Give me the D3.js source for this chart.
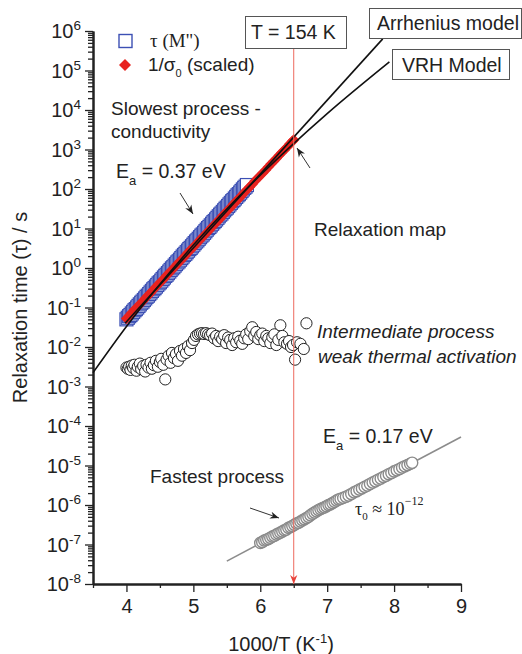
<!DOCTYPE html>
<html>
<head>
<meta charset="utf-8">
<script src="https://cdn.jsdelivr.net/npm/d3@7"></script>
<style>
  body { margin: 0; background: #fff; }
  svg { font-family: "Liberation Sans", Arial, sans-serif; }
</style>
</head>
<body>
<svg id="relaxmap"></svg>
<script>
// log10(tau) values

// tau(M'') - blue open squares
var sqX = [4.00,4.02,4.04,4.06,4.08,4.10,4.12,4.14,4.16,4.18,4.20,4.22,4.24,4.26,4.28,4.30,4.32,4.34,4.36,4.38,4.40,4.42,4.44,4.46,4.48,4.50,4.52,4.54,4.56,4.58,4.60,4.62,4.64,4.66,4.68,4.70,4.72,4.74,4.76,4.78,4.80,4.82,4.84,4.86,4.88,4.90,4.92,4.94,4.96,4.98,5.00,5.02,5.04,5.06,5.08,5.10,5.12,5.14,5.16,5.18,5.20,5.22,5.24,5.26,5.28,5.30,5.32,5.34,5.36,5.38,5.40,5.42,5.44,5.46,5.48,5.50,5.52,5.54,5.56,5.58,5.60,5.62,5.64,5.66,5.68,5.70,5.72,5.74,5.76,5.78,5.80];
var sqLog = [-1.30,-1.26,-1.22,-1.19,-1.15,-1.11,-1.07,-1.04,-1.00,-0.96,-0.92,-0.88,-0.85,-0.81,-0.77,-0.73,-0.70,-0.66,-0.62,-0.58,-0.54,-0.51,-0.47,-0.43,-0.39,-0.36,-0.32,-0.28,-0.24,-0.20,-0.17,-0.13,-0.09,-0.05,-0.01,0.02,0.06,0.10,0.14,0.17,0.21,0.25,0.29,0.33,0.36,0.40,0.44,0.48,0.51,0.55,0.59,0.63,0.67,0.70,0.74,0.78,0.82,0.85,0.89,0.93,0.97,1.01,1.04,1.08,1.12,1.16,1.19,1.23,1.27,1.31,1.35,1.38,1.42,1.46,1.50,1.53,1.57,1.61,1.65,1.69,1.72,1.76,1.80,1.84,1.87,1.91,1.95,1.99,2.03,2.06,2.10];

// 1/sigma0 (scaled) - red diamonds
var dmX = [4.00,4.04,4.08,4.12,4.16,4.20,4.24,4.28,4.32,4.36,4.40,4.44,4.48,4.52,4.56,4.60,4.64,4.68,4.72,4.76,4.80,4.84,4.88,4.92,4.96,5.00,5.04,5.08,5.12,5.16,5.20,5.24,5.28,5.32,5.36,5.40,5.44,5.48,5.52,5.56,5.60,5.64,5.68,5.72,5.76,5.80,5.84,5.88,5.92,5.96,6.00,6.04,6.08,6.12,6.16,6.20,6.24,6.28,6.32,6.36,6.40,6.44,6.48,6.50];
var dmLog = [-1.28,-1.21,-1.13,-1.06,-0.99,-0.92,-0.85,-0.77,-0.70,-0.63,-0.56,-0.48,-0.41,-0.34,-0.27,-0.19,-0.12,-0.05,0.02,0.10,0.17,0.24,0.31,0.39,0.46,0.53,0.60,0.68,0.75,0.82,0.89,0.96,1.04,1.11,1.18,1.25,1.33,1.40,1.47,1.54,1.62,1.69,1.76,1.83,1.91,1.98,2.05,2.12,2.20,2.27,2.34,2.41,2.48,2.56,2.63,2.70,2.77,2.85,2.92,2.99,3.06,3.14,3.21,3.24];

// intermediate process - black open circles
var midX = [4.00,4.02,4.04,4.06,4.08,4.10,4.12,4.15,4.17,4.20,4.22,4.25,4.28,4.30,4.33,4.36,4.38,4.41,4.44,4.47,4.50,4.52,4.55,4.58,4.60,4.63,4.66,4.68,4.71,4.74,4.77,4.80,4.83,4.86,4.89,4.92,4.95,4.98,5.01,5.04,5.07,5.10,5.13,5.16,5.19,5.22,5.25,5.28,5.31,5.34,5.37,5.40,5.43,5.46,5.49,5.52,5.55,5.58,5.61,5.64,5.67,5.70,5.73,5.76,5.79,5.82,5.85,5.88,5.91,5.94,5.97,6.00,6.03,6.06,6.09,6.12,6.15,6.18,6.21,6.24,6.27,6.30,6.33,6.36,6.40,6.43,6.46,6.49,6.52,6.55,6.60,6.65,6.69];
var midLog = [-2.52,-2.55,-2.50,-2.58,-2.47,-2.53,-2.45,-2.60,-2.50,-2.42,-2.56,-2.48,-2.62,-2.45,-2.52,-2.40,-2.55,-2.46,-2.35,-2.50,-2.38,-2.30,-2.45,-2.82,-2.32,-2.22,-2.40,-2.15,-2.28,-2.18,-2.35,-2.10,-2.22,-2.05,-2.15,-1.98,-2.08,-1.90,-1.82,-1.72,-1.68,-1.66,-1.65,-1.67,-1.65,-1.68,-1.70,-1.66,-1.78,-1.72,-1.85,-1.74,-1.80,-1.70,-1.90,-1.76,-1.82,-1.95,-1.78,-1.88,-1.74,-1.84,-1.92,-1.78,-1.68,-1.80,-1.60,-1.50,-1.72,-1.62,-1.80,-1.70,-1.66,-1.85,-1.72,-1.78,-1.90,-1.75,-1.68,-1.95,-1.82,-1.45,-1.72,-1.88,-1.92,-1.85,-2.00,-1.95,-2.32,-1.88,-1.92,-2.05,-1.40];

// fastest process - grey open circles
var fastX = [6.00,6.03,6.06,6.09,6.12,6.15,6.18,6.21,6.24,6.27,6.30,6.33,6.36,6.39,6.42,6.45,6.48,6.51,6.54,6.57,6.60,6.63,6.66,6.69,6.72,6.75,6.78,6.81,6.84,6.87,6.90,6.93,6.96,6.99,7.02,7.05,7.08,7.11,7.14,7.17,7.20,7.24,7.28,7.32,7.36,7.40,7.44,7.48,7.52,7.56,7.60,7.64,7.68,7.72,7.76,7.80,7.84,7.88,7.92,7.96,8.00,8.04,8.08,8.12,8.16,8.20,8.24,8.27];
var fastLog = [-6.96,-6.94,-6.90,-6.88,-6.86,-6.83,-6.80,-6.78,-6.75,-6.72,-6.70,-6.67,-6.64,-6.62,-6.58,-6.56,-6.53,-6.50,-6.47,-6.45,-6.42,-6.39,-6.36,-6.33,-6.30,-6.26,-6.22,-6.19,-6.16,-6.13,-6.10,-6.08,-6.06,-6.03,-6.00,-5.98,-5.95,-5.92,-5.89,-5.86,-5.84,-5.82,-5.79,-5.76,-5.72,-5.68,-5.65,-5.61,-5.58,-5.54,-5.51,-5.47,-5.43,-5.40,-5.36,-5.33,-5.29,-5.26,-5.22,-5.19,-5.15,-5.12,-5.09,-5.05,-5.02,-4.99,-4.96,-4.93];

// model lines (endpoints / points)
var arrhX = [3.98, 7.83];
var arrhLog = [-1.40, 5.80];
var vrhX = [3.5, 4.0, 5.0, 6.0, 7.0, 7.93];
var vrhLog = [-2.65, -1.48, 0.58, 2.35, 3.91, 5.22];
var fastFitX = [5.5, 9.0];
var fastFitLog = [-7.42, -4.28];

var xMajor = [4, 5, 6, 7, 8, 9];
var xMinor = [3.5, 4.5, 5.5, 6.5, 7.5, 8.5];
var yExp = [6, 5, 4, 3, 2, 1, 0, -1, -2, -3, -4, -5, -6, -7, -8];
var tempLine = 6.5;   // 1000/154 K

var width = 522, height = 654;
var ink = "#222";

var svg = d3.select("#relaxmap")
  .attr("width", width)
  .attr("height", height);

var x = d3.scaleLinear().domain([3.5, 9]).range([93, 461]);
var y = d3.scaleLog().domain([1e-8, 1e6]).range([584, 31]);

function pts(xs, ls) {
  return xs.map(function(d, i) { return [d, Math.pow(10, ls[i])]; });
}

var defs = svg.append("defs");
function arrowMarker(id, col) {
  defs.append("marker")
    .attr("id", id)
    .attr("viewBox", "0 0 10 10")
    .attr("refX", 10).attr("refY", 5)
    .attr("markerWidth", 9).attr("markerHeight", 9)
    .attr("markerUnits", "userSpaceOnUse")
    .attr("orient", "auto")
    .append("path")
    .attr("d", "M0,1 L10,5 L0,9 L3,5 z")
    .attr("fill", col);
}
arrowMarker("arrBlack", "#222");
arrowMarker("arrRed", "#e8423a");

// ---- axes
var xMinorAxis = d3.axisBottom(x).tickValues(xMinor).tickSize(4).tickFormat("").tickSizeOuter(0);
var xAxis = d3.axisBottom(x).tickValues(xMajor).tickSize(8).tickPadding(7)
  .tickFormat(d3.format("d")).tickSizeOuter(0);

svg.append("g").attr("transform", "translate(0,584)").call(xMinorAxis);
var gx = svg.append("g").attr("transform", "translate(0,584)").call(xAxis);
gx.selectAll("text").attr("font-size", 20).attr("fill", ink)
  .attr("font-family", "Liberation Sans, Arial, sans-serif");

var yMinor = [];
for (var e = -8; e < 6; e++) {
  for (var m = 2; m < 10; m++) yMinor.push(m * Math.pow(10, e));
}
var yMinorAxis = d3.axisLeft(y).tickValues(yMinor).tickSize(5).tickFormat("").tickSizeOuter(0);
var yAxis = d3.axisLeft(y).tickValues(yExp.map(function(p) { return Math.pow(10, p); }))
  .tickSize(8).tickFormat("").tickSizeOuter(0);

svg.append("g").attr("transform", "translate(93,0)").call(yMinorAxis);
var gy = svg.append("g").attr("transform", "translate(93,0)").call(yAxis);

svg.selectAll(".domain").attr("stroke", ink).attr("stroke-width", 2);
svg.selectAll(".tick line").attr("stroke", ink).attr("stroke-width", 1.3);

var ylab = svg.append("g");
yExp.forEach(function(p) {
  var t = ylab.append("text")
    .attr("x", 81)
    .attr("y", y(Math.pow(10, p)) + 7)
    .attr("text-anchor", "end")
    .attr("fill", ink)
    .attr("font-size", 20);
  t.append("tspan").text("10");
  t.append("tspan").attr("dy", -8).attr("font-size", 13.5).text(p);
});

svg.append("text")
  .attr("transform", "translate(27," + ((31 + 584) / 2) + ") rotate(-90)")
  .attr("text-anchor", "middle")
  .attr("font-size", 20)
  .attr("fill", ink)
  .text("Relaxation time (τ) / s");

var xt = svg.append("text")
  .attr("x", 281).attr("y", 651)
  .attr("text-anchor", "middle")
  .attr("font-size", 20)
  .attr("fill", ink);
xt.append("tspan").text("1000/T (K");
xt.append("tspan").attr("dy", -8).attr("font-size", 13).text("-1");
xt.append("tspan").attr("dy", 8).text(")");

// ---- lines + marks
var line = d3.line()
  .x(function(d) { return x(d[0]); })
  .y(function(d) { return y(d[1]); });

svg.append("path")
  .datum(pts(fastFitX, fastFitLog))
  .attr("d", line)
  .attr("fill", "none").attr("stroke", "#8c8c8c").attr("stroke-width", 1.6);

svg.append("g").selectAll("circle")
  .data(pts(fastX, fastLog))
  .enter().append("circle")
  .attr("cx", function(d) { return x(d[0]); })
  .attr("cy", function(d) { return y(d[1]); })
  .attr("r", 5.6)
  .attr("fill", "#fff").attr("stroke", "#8a8a8a").attr("stroke-width", 1.4);

svg.append("g").selectAll("circle")
  .data(pts(midX, midLog))
  .enter().append("circle")
  .attr("cx", function(d) { return x(d[0]); })
  .attr("cy", function(d) { return y(d[1]); })
  .attr("r", 5.6)
  .attr("fill", "#fff").attr("stroke", "#222").attr("stroke-width", 1);

svg.append("g").selectAll("rect")
  .data(pts(sqX, sqLog))
  .enter().append("rect")
  .attr("x", function(d) { return x(d[0]) - 6.5; })
  .attr("y", function(d) { return y(d[1]) - 6.5; })
  .attr("width", 13).attr("height", 13)
  .attr("fill", "#fff").attr("stroke", "#3c50b4").attr("stroke-width", 1.2);

var diamond = d3.symbol().type(d3.symbolSquare).size(64);
svg.append("g").selectAll("path")
  .data(pts(dmX, dmLog))
  .enter().append("path")
  .attr("d", diamond)
  .attr("transform", function(d) { return "translate(" + x(d[0]) + "," + y(d[1]) + ") rotate(45)"; })
  .attr("fill", "#e8221f");

svg.append("path")
  .datum(pts(vrhX, vrhLog))
  .attr("d", line.curve(d3.curveMonotoneX))
  .attr("fill", "none").attr("stroke", "#111").attr("stroke-width", 1.6);
line.curve(d3.curveLinear);

svg.append("path")
  .datum(pts(arrhX, arrhLog))
  .attr("d", line)
  .attr("fill", "none").attr("stroke", "#111").attr("stroke-width", 1.6);

// T = 154 K marker line
svg.append("line")
  .attr("x1", x(tempLine)).attr("x2", x(tempLine))
  .attr("y1", 48).attr("y2", 584)
  .attr("stroke", "#ee6a5e").attr("stroke-width", 1)
  .attr("marker-end", "url(#arrRed)");

// ---- boxes
function box(x0, y0, w, h, label, tx, ty) {
  svg.append("rect")
    .attr("x", x0).attr("y", y0).attr("width", w).attr("height", h)
    .attr("fill", "#fff").attr("stroke", "#555").attr("stroke-width", 1);
  svg.append("text").attr("x", tx).attr("y", ty)
    .attr("font-size", 19.5).attr("fill", ink).text(label);
}
box(245.5, 16.5, 101, 32, "T = 154 K", 251, 39);
box(369.5, 8.5, 152, 30, "Arrhenius model", 377, 30);
box(392.5, 49.5, 117, 30, "VRH Model", 402, 72);

// ---- legend
svg.append("rect")
  .attr("x", 119).attr("y", 34.5).attr("width", 13).attr("height", 13)
  .attr("fill", "#fff").attr("stroke", "#3c50b4").attr("stroke-width", 1.4);
svg.append("text").attr("x", 150).attr("y", 47)
  .attr("font-family", "Liberation Serif, Times New Roman, serif")
  .attr("font-size", 19).attr("fill", ink).text("τ (M\")");
svg.append("path")
  .attr("d", d3.symbol().type(d3.symbolSquare).size(72))
  .attr("transform", "translate(125,65) rotate(45)")
  .attr("fill", "#e8221f");
var lg2 = svg.append("text").attr("x", 148).attr("y", 71)
  .attr("font-size", 19).attr("fill", ink);
lg2.append("tspan").text("1/σ");
lg2.append("tspan").attr("dy", 6).attr("font-size", 11).text("0");
lg2.append("tspan").attr("dy", -6).text(" (scaled)");

// ---- annotations
function label(tx, ty, txt, opts) {
  var t = svg.append("text").attr("x", tx).attr("y", ty)
    .attr("font-size", 19).attr("fill", ink).text(txt);
  if (opts === "italic") t.attr("font-style", "italic");
  return t;
}
label(111, 115, "Slowest process -");
label(111, 138, "conductivity");
label(314, 236, "Relaxation map");
label(317, 338, "Intermediate process", "italic");
label(318, 363, "weak thermal activation", "italic");
label(150, 483, "Fastest process");

function eaLabel(tx, ty, val) {
  var t = svg.append("text").attr("x", tx).attr("y", ty)
    .attr("font-size", 19.5).attr("fill", ink);
  t.append("tspan").text("E");
  t.append("tspan").attr("dy", 7).attr("font-size", 13).text("a");
  t.append("tspan").attr("dy", -7).text(" = " + val + " eV");
}
eaLabel(116, 178, "0.37");
eaLabel(323, 443, "0.17");

var tau0 = svg.append("text").attr("x", 355).attr("y", 515)
  .attr("font-family", "Liberation Serif, Times New Roman, serif")
  .attr("font-size", 18).attr("fill", ink);
tau0.append("tspan").text("τ");
tau0.append("tspan").attr("dy", 5).attr("font-size", 11).text("0");
tau0.append("tspan").attr("dy", -5).text(" ≈ 10");
tau0.append("tspan").attr("dy", -10).attr("font-size", 12).text("−12");

function arrow(x1, y1, x2, y2) {
  svg.append("line")
    .attr("x1", x1).attr("y1", y1).attr("x2", x2).attr("y2", y2)
    .attr("stroke", "#333").attr("stroke-width", 1)
    .attr("marker-end", "url(#arrBlack)");
}
arrow(180, 193, 193, 214);
arrow(310, 168, 297, 148);
arrow(250, 508, 279, 518);
</script>
</body>
</html>
